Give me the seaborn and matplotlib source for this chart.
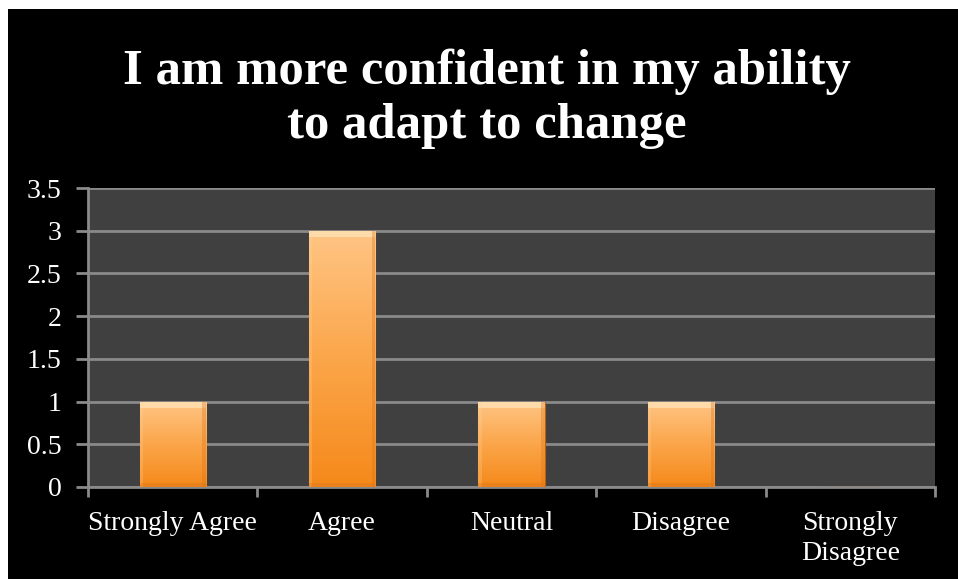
import numpy as np
import pandas as pd
import matplotlib
matplotlib.use("Agg")
import matplotlib.pyplot as plt
from matplotlib.colors import LinearSegmentedColormap
from matplotlib.patches import Rectangle
import seaborn as sns

# Survey responses
categories = ["Strongly Agree", "Agree", "Neutral", "Disagree", "Strongly\nDisagree"]
counts = [1, 3, 1, 1, 0]
y_ticks = [0, 0.5, 1, 1.5, 2, 2.5, 3, 3.5]
y_tick_labels = ["0", "0.5", "1", "1.5", "2", "2.5", "3", "3.5"]
title = "I am more confident in my ability\nto adapt to change"

df = pd.DataFrame({"category": categories, "count": counts})

sns.set_style("dark")
plt.rcParams["font.family"] = ["Liberation Serif", "DejaVu Serif"]

fig = plt.figure(figsize=(9.58, 5.79), dpi=100, facecolor="black")
# thin white margin along the top and left edges
fig.patches.append(Rectangle((0, 0), 8 / 958, 1, transform=fig.transFigure,
                             facecolor="white", edgecolor="none", zorder=-10))
fig.patches.append(Rectangle((0, 1 - 9 / 579), 1, 9 / 579, transform=fig.transFigure,
                             facecolor="white", edgecolor="none", zorder=-10))

ax = fig.add_axes([88 / 958, 1 - 487 / 579, (935 - 88) / 958, (487 - 188) / 579])
ax.set_facecolor("#404040")

sns.barplot(data=df, x="category", y="count", ax=ax, width=0.39,
            color="#F7951F", edgecolor="#B8600E", linewidth=0.8, zorder=3)

# vertical orange gradient clipped to each bar, with a bevelled rim
grad = LinearSegmentedColormap.from_list("bar", ["#F5891A", "#FBA64A", "#FFC585"])
for p in list(ax.patches):
    h = p.get_height()
    if h <= 0:
        continue
    x0 = p.get_x()
    w = p.get_width()
    img = ax.imshow(np.linspace(0, 1, 256).reshape(-1, 1), cmap=grad, origin="lower",
                    extent=[x0, x0 + w, 0, h], aspect="auto", zorder=3.5,
                    interpolation="bicubic")
    img.set_clip_path(p)
    ax.add_patch(Rectangle((x0, h - 0.07), w, 0.07, facecolor="#FFE6BC",
                           edgecolor="none", alpha=0.7, zorder=3.6))
    ax.add_patch(Rectangle((x0, 0), w * 0.05, h, facecolor="#FFD6A0",
                           edgecolor="none", alpha=0.25, zorder=3.6))
    ax.add_patch(Rectangle((x0 + w * 0.95, 0), w * 0.05, h, facecolor="#D8741A",
                           edgecolor="none", alpha=0.35, zorder=3.6))
    ax.add_patch(Rectangle((x0, 0), w, 0.05, facecolor="#D8741A",
                           edgecolor="none", alpha=0.35, zorder=3.6))

ax.set_xlim(-0.5, len(categories) - 0.5)
ax.set_ylim(0, 3.5)
ax.set_yticks(y_ticks)
ax.set_yticklabels(y_tick_labels)
ax.yaxis.grid(True, color="#8a8a8a", linewidth=2, zorder=1)
ax.xaxis.grid(False)
ax.set_axisbelow(True)

# category ticks at the boundaries, labels centred under the bars
ax.set_xticks(np.arange(-0.5, len(categories), 1.0))
ax.set_xticklabels([])
ax.set_xticks(np.arange(len(categories)), minor=True)
ax.set_xticklabels(categories, minor=True, linespacing=1.3)
ax.tick_params(axis="x", which="major", length=7, width=2, color="#8a8a8a", direction="out", bottom=True)
ax.tick_params(axis="x", which="minor", length=0, pad=17, labelsize=20, labelcolor="white")
ax.tick_params(axis="y", length=9, width=2, color="#8a8a8a", direction="out", left=True,
               labelsize=20, labelcolor="white", pad=10)
ax.set_xlabel("")
ax.set_ylabel("")

for side in ["top", "right"]:
    ax.spines[side].set_visible(False)
for side in ["left", "bottom"]:
    ax.spines[side].set_visible(True)
    ax.spines[side].set_color("#8a8a8a")
    ax.spines[side].set_linewidth(2)

fig.text(487 / 958, 1 - 99 / 579, title, ha="center", va="center", color="white",
         fontsize=36.5, fontweight="bold", linespacing=1.22)

fig.savefig("out.png", dpi=100, facecolor=fig.get_facecolor())
